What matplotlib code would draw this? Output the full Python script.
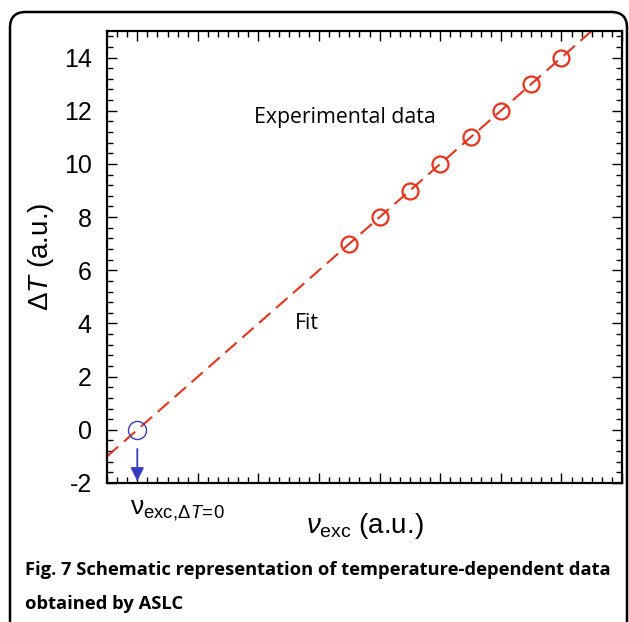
import numpy as np
import matplotlib
matplotlib.use("Agg")
import matplotlib.pyplot as plt
from matplotlib.patches import FancyBboxPatch
from matplotlib.ticker import MultipleLocator

plt.rcParams['font.family'] = ['Liberation Sans', 'DejaVu Sans']
plt.rcParams['mathtext.fontset'] = 'custom'
plt.rcParams['mathtext.rm'] = 'Liberation Sans'
plt.rcParams['mathtext.it'] = 'Liberation Sans:italic'
plt.rcParams['axes.unicode_minus'] = False

# experimental points (excitation frequency vs temperature shift, arbitrary units)
nu_exc = [7, 8, 9, 10, 11, 12, 13, 14]
delta_T = [7, 8, 9, 10, 11, 12, 13, 14]

# linear fit, extrapolated down to the x-intercept
slope, intercept = np.polyfit(nu_exc, delta_T, 1)
fit_x = np.linspace(-1, 15, 50)
fit_y = slope * fit_x + intercept
nu_zero = -intercept / slope

red = '#e8341c'
blue = '#3a3ac0'

fig = plt.figure(figsize=(6.29, 6.22), dpi=100)
ax = fig.add_axes([0.1701, 0.2235, 0.8188, 0.7267])

ax.plot(fit_x, fit_y, color=red, lw=1.5, dashes=(7.2, 3.6), zorder=2)
ax.plot(nu_exc, delta_T, 'o', ms=11.5, mfc='none', mec=red, mew=1.6, zorder=3)
ax.plot([nu_zero], [0], 'o', ms=13, mfc='none', mec=blue, mew=1.0, zorder=3)
ax.annotate('', xy=(nu_zero, -1.93), xytext=(nu_zero, -0.72),
            arrowprops=dict(arrowstyle='-|>', color=blue, lw=1.3,
                            mutation_scale=20, shrinkA=0, shrinkB=0))

ax.set_xlim(-1, 16)
ax.set_ylim(-2, 15)
ax.xaxis.set_major_locator(MultipleLocator(2))
ax.xaxis.set_minor_locator(MultipleLocator(1 / 3))
ax.yaxis.set_major_locator(MultipleLocator(2))
ax.yaxis.set_minor_locator(MultipleLocator(0.4))
ax.tick_params(which='both', direction='in', top=True, right=True, width=1.0)
ax.tick_params(which='major', length=7)
ax.tick_params(which='minor', length=4)
ax.tick_params(axis='y', labelsize=18, pad=11)
ax.tick_params(axis='x', labelbottom=False)
for sp in ax.spines.values():
    sp.set_linewidth(1.6)

ax.set_ylabel(r'$\Delta$$T$ (a.u.)', fontsize=20, labelpad=6)
ax.set_xlabel(r'$\nu_{\mathrm{exc}}$ (a.u.)', fontsize=20, labelpad=17)

ax.text(nu_zero - 0.25, -2.6, r'$\mathrm{\nu}_{\mathrm{exc,}\!\Delta T\!=\!0}$',
        fontsize=19, ha='left', va='top')
ax.text(3.85, 11.75, 'Experimental data', fontsize=15.3, family='Open Sans',
        ha='left', va='center')
ax.text(5.2, 4.0, 'Fit', fontsize=15.3, family='Open Sans', ha='left', va='center')

fig.text(25 / 629, 1 - 570 / 622, 'Fig. 7 Schematic representation of temperature-dependent data',
         fontsize=13.2, fontweight='bold', family='Open Sans', va='center')
fig.text(25 / 629, 1 - 604 / 622, 'obtained by ASLC',
         fontsize=13.2, fontweight='bold', family='Open Sans', va='center')

frame = FancyBboxPatch((10 / 629, -0.1), 617 / 629, 1.1 - 12 / 622,
                       boxstyle='round,pad=0,rounding_size=0.025',
                       transform=fig.transFigure, fill=False, lw=1.8,
                       ec='black', clip_on=False)
fig.patches.append(frame)

fig.savefig('out.png', dpi=100)
